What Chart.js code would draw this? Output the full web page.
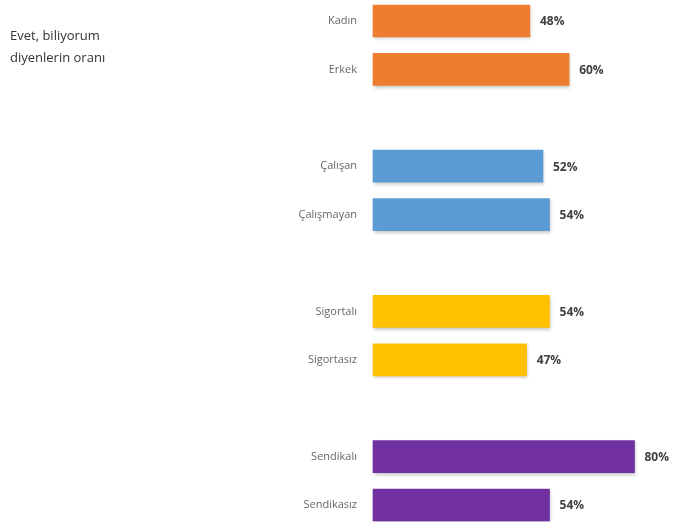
<!DOCTYPE html>
<html>
<head>
<meta charset="utf-8">
<script src="https://cdn.jsdelivr.net/npm/chart.js@4/dist/chart.umd.min.js"></script>
<style>
  html, body { margin: 0; padding: 0; background: #fff; }
  #wrap { position: relative; width: 677px; height: 522px; }
  #baslik {
    position: absolute; left: 10px; top: 24px;
    font: 13px "Open Sans", sans-serif; line-height: 22px; color: #333;
  }
</style>
</head>
<body>
<div id="wrap">
  <canvas id="grafik" width="677" height="522"></canvas>
  <div id="baslik">Evet, biliyorum<br>diyenlerin oranı</div>
</div>
<script>
// gruplar arasında boş satırlar var
const kategoriler = ['Kadın', 'Erkek', '', 'Çalışan', 'Çalışmayan', '', 'Sigortalı', 'Sigortasız', '', 'Sendikalı', 'Sendikasız'];
const oranlar = [48, 60, null, 52, 54, null, 54, 47, null, 80, 54];
const renkler = ['#ED7D31', '#ED7D31', null, '#5B9BD5', '#5B9BD5', null, '#FFC000', '#FFC000', null, '#7030A0', '#7030A0'];

// çubukların altına hafif gölge
const golge = {
    id: 'golge',
    beforeDatasetsDraw(chart) {
        let ctx = chart.ctx;
        ctx.save();
        ctx.shadowColor = 'rgba(0,0,0,0.22)';
        ctx.shadowBlur = 3;
        ctx.shadowOffsetX = 1;
        ctx.shadowOffsetY = 2;
    },
    afterDatasetsDraw(chart) {
        chart.ctx.restore();
    }
};

// yüzde etiketleri
const yuzdeEtiketi = {
    id: 'yuzdeEtiketi',
    afterDraw(chart) {
        let ctx = chart.ctx;
        let meta = chart.getDatasetMeta(0);
        ctx.save();
        ctx.font = 'bold 12px "Open Sans", sans-serif';
        ctx.fillStyle = '#404040';
        ctx.textAlign = 'left';
        ctx.textBaseline = 'middle';
        meta.data.forEach((bar, i) => {
            if (oranlar[i] === null) return;
            ctx.fillText(oranlar[i] + '%', bar.x + 10, bar.y + 1);
        });
        ctx.restore();
    }
};

new Chart(document.getElementById('grafik'), {
    type: 'bar',
    data: {
        labels: kategoriler,
        datasets: [{
            data: oranlar,
            backgroundColor: renkler,
            barThickness: 32,
            clip: false
        }]
    },
    options: {
        indexAxis: 'y',
        responsive: false,
        animation: false,
        layout: { padding: { top: 21, bottom: 17, left: 0, right: 0 } },
        plugins: {
            legend: { display: false },
            tooltip: { enabled: false }
        },
        scales: {
            x: { display: false, min: 0, max: 93 },
            y: {
                offset: false,
                border: { display: false },
                grid: { display: false, drawTicks: false },
                ticks: {
                    padding: 16,
                    color: '#666',
                    font: { family: 'Open Sans', size: 11 }
                },
                afterFit(scale) {
                    // sabit eksen genişliği; etiket boşluğu alanı daraltmasın
                    scale.width = 373;
                    scale.paddingTop = 0;
                    scale.paddingBottom = 0;
                }
            }
        }
    },
    plugins: [golge, yuzdeEtiketi]
});
</script>
</body>
</html>
